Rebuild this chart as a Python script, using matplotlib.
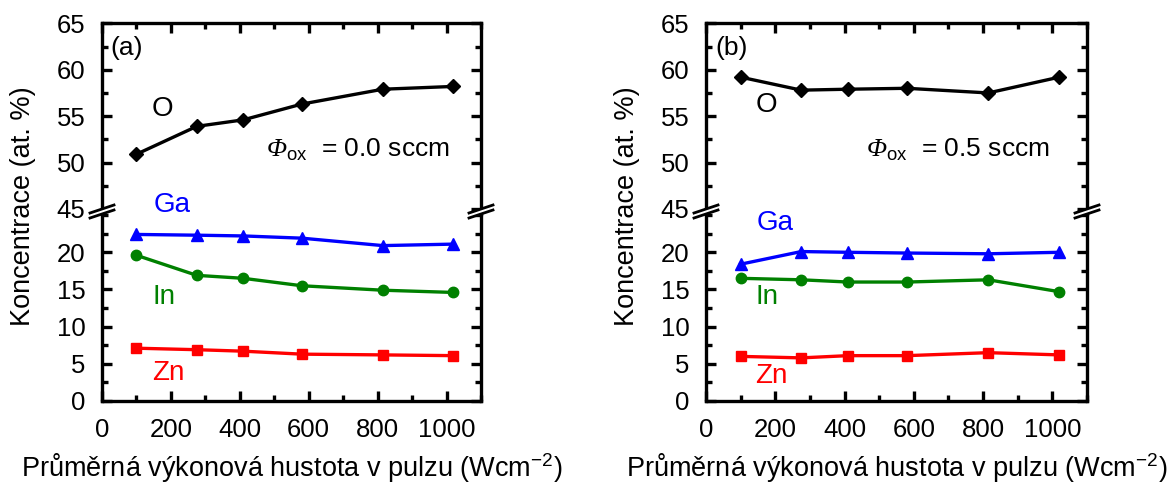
import matplotlib
matplotlib.use("Agg")
import matplotlib.pyplot as plt
from matplotlib.ticker import MultipleLocator, FixedLocator
from matplotlib.lines import Line2D
from matplotlib.patches import Polygon

plt.rcParams['font.family'] = ['Liberation Sans', 'DejaVu Sans']
plt.rcParams['mathtext.fontset'] = 'custom'
plt.rcParams['mathtext.rm'] = 'Liberation Sans'
plt.rcParams['mathtext.it'] = 'Liberation Sans:italic'
plt.rcParams['mathtext.cal'] = 'Liberation Serif:italic'
plt.rcParams['mathtext.bf'] = 'Liberation Sans:bold'

# ---- data ----
power_density = [100, 275, 410, 580, 815, 1020]

O_a = [50.9, 53.9, 54.6, 56.3, 57.9, 58.2]
Ga_a = [22.4, 22.3, 22.2, 21.9, 20.9, 21.1]
In_a = [19.6, 16.9, 16.5, 15.5, 14.9, 14.6]
Zn_a = [7.1, 6.9, 6.7, 6.3, 6.2, 6.1]

O_b = [59.2, 57.8, 57.9, 58.0, 57.5, 59.2]
Ga_b = [18.4, 20.1, 20.0, 19.9, 19.8, 20.0]
In_b = [16.5, 16.3, 16.0, 16.0, 16.3, 14.7]
Zn_b = [6.0, 5.8, 6.1, 6.1, 6.5, 6.2]

panel_tags = ['(a)', '(b)']
flows = ['0.0', '0.5']
xlabel = 'Průměrná výkonová hustota v pulzu (Wcm$^{-2}$)'
ylabel = 'Koncentrace (at. %)'
lower_ticks = [0, 5, 10, 15, 20]
upper_ticks = [45, 50, 55, 60, 65]

W, H = 1176, 484
fig = plt.figure(figsize=(W / 100, H / 100), dpi=100)


def fx(px):
    return px / W


def fy(py):
    return 1 - py / H


TICK_FS = 18.5
LAB_FS = 19.5
ANN_FS = 20
LW = 2.4

panels = [
    dict(left=102, right=481, O=O_a, Ga=Ga_a, In=In_a, Zn=Zn_a, tag=panel_tags[0], flow=flows[0],
         lab=dict(O=(162, 109), Ga=(172, 205), In=(164, 297), Zn=(168, 373), tag=(127, 48),
                  phi=(266, 150)), ylab_x=23),
    dict(left=706, right=1087, O=O_b, Ga=Ga_b, In=In_b, Zn=Zn_b, tag=panel_tags[1], flow=flows[1],
         lab=dict(O=(766, 105), Ga=(775, 223), In=(767, 297), Zn=(771, 376), tag=(732, 48),
                  phi=(866, 150)), ylab_x=627),
]

top_px, brk_px, bot_px = 23.3, 214, 401

for p in panels:
    l = fx(p['left'])
    w = fx(p['right'] - p['left'])
    ax_lo = fig.add_axes([l, fy(bot_px), w, fy(brk_px) - fy(bot_px)])
    ax_hi = fig.add_axes([l, fy(brk_px), w, fy(top_px) - fy(brk_px)], sharex=ax_lo)

    ax_lo.set_ylim(0, 25.15)
    ax_hi.set_ylim(44.46, 65)
    ax_lo.set_xlim(0, 1100)

    ax_lo.yaxis.set_major_locator(FixedLocator(lower_ticks))
    ax_lo.yaxis.set_minor_locator(MultipleLocator(2.5))
    ax_hi.yaxis.set_major_locator(FixedLocator(upper_ticks))
    ax_hi.yaxis.set_minor_locator(MultipleLocator(2.5))

    for ax in (ax_lo, ax_hi):
        for s in ax.spines.values():
            s.set_linewidth(LW)
        ax.xaxis.set_major_locator(MultipleLocator(200))
        ax.xaxis.set_minor_locator(MultipleLocator(100))
        ax.tick_params(which='both', direction='in', width=LW, labelsize=TICK_FS,
                       left=True, right=True)
        ax.tick_params(which='major', length=7)
        ax.tick_params(which='minor', length=4)
        ax.tick_params(axis='y', pad=12)
        ax.patch.set_alpha(0)

    ax_lo.spines['top'].set_visible(False)
    ax_hi.spines['bottom'].set_visible(False)
    ax_lo.tick_params(which='both', top=False, bottom=True)
    ax_hi.tick_params(which='both', top=True, bottom=False, labelbottom=False)
    ax_lo.tick_params(axis='x', pad=12)

    ax_hi.plot(power_density, p['O'], color='black', lw=2.4, marker='D', ms=7, zorder=3)
    ax_lo.plot(power_density, p['Ga'], color='#0000ff', lw=2.4, marker='^', ms=9, zorder=3)
    ax_lo.plot(power_density, p['In'], color='#008000', lw=2.4, marker='o', ms=7.5, zorder=3)
    ax_lo.plot(power_density, p['Zn'], color='#ff0000', lw=2.4, marker='s', ms=7, zorder=3)

    lab = p['lab']
    fig.text(fx(lab['O'][0]), fy(lab['O'][1]), 'O', color='black', fontsize=ANN_FS,
             ha='center', va='center')
    fig.text(fx(lab['Ga'][0]), fy(lab['Ga'][1]), 'Ga', color='#0000ff', fontsize=ANN_FS,
             ha='center', va='center')
    fig.text(fx(lab['In'][0]), fy(lab['In'][1]), 'In', color='#008000', fontsize=ANN_FS,
             ha='center', va='center')
    fig.text(fx(lab['Zn'][0]), fy(lab['Zn'][1]), 'Zn', color='#ff0000', fontsize=ANN_FS,
             ha='center', va='center')
    fig.text(fx(lab['tag'][0]), fy(lab['tag'][1]), p['tag'], fontsize=19,
             ha='center', va='center')
    fig.text(fx(lab['phi'][0]), fy(lab['phi'][1]),
             r'$\mathcal{\Phi}_{\mathrm{ox}}$  = ' + p['flow'] + ' sccm', fontsize=19,
             ha='left', va='center')

    # axis labels
    fig.text(fx(p['ylab_x']), fy(206), ylabel, rotation=90,
             fontsize=LAB_FS, ha='center', va='center')
    fig.text(fx((p['left'] + p['right']) / 2), fy(468), xlabel, fontsize=LAB_FS,
             ha='center', va='center')

    # break marks
    for xs in (p['left'], p['right']):
        gap = Polygon([(fx(xs - 12), fy(brk_px + 4)), (fx(xs + 12), fy(brk_px - 4)),
                       (fx(xs + 12), fy(brk_px - 9)), (fx(xs - 12), fy(brk_px - 1))],
                      closed=True, transform=fig.transFigure, facecolor='white',
                      edgecolor='none', zorder=10)
        fig.add_artist(gap)
        for dy in (0, -5):
            fig.add_artist(Line2D([fx(xs - 12), fx(xs + 12)],
                                  [fy(brk_px + 4 + dy), fy(brk_px - 4 + dy)],
                                  transform=fig.transFigure, color='black', lw=2.0,
                                  zorder=11))

fig.savefig('out.png', dpi=100)
